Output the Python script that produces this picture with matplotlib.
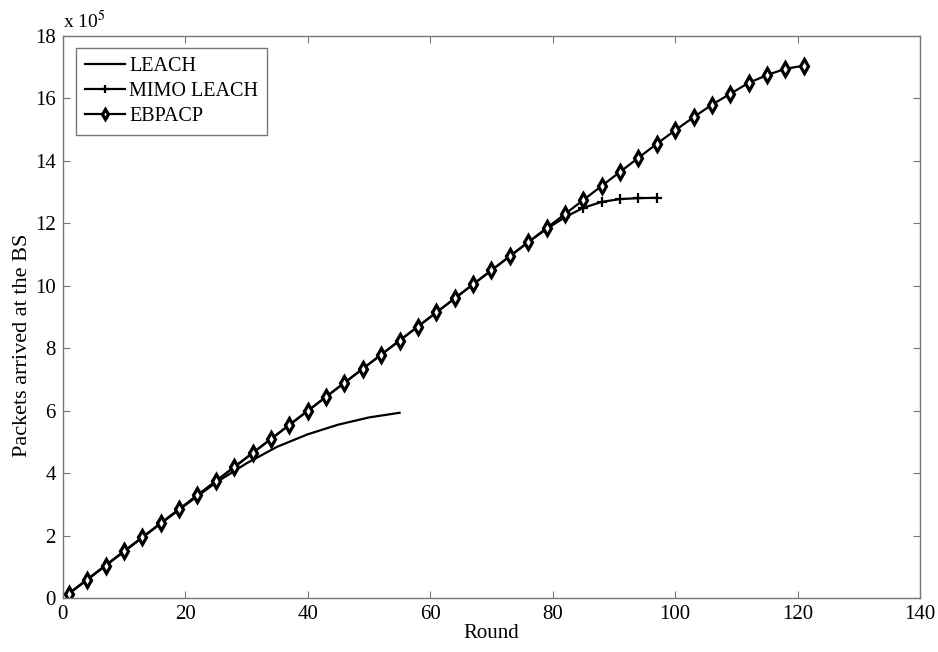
import matplotlib
matplotlib.use("Agg")
import matplotlib.pyplot as plt

plt.rcParams['font.family'] = ['Liberation Serif', 'DejaVu Serif']
plt.rcParams['mathtext.fontset'] = 'stix'

# packets received at the base station, in units of 1e5
rounds_ebpacp = [1, 4, 7, 10, 13, 16, 19, 22, 25, 28, 31, 34, 37, 40, 43, 46, 49,
                 52, 55, 58, 61, 64, 67, 70, 73, 76, 79, 82, 85, 88, 91, 94, 97,
                 100, 103, 106, 109, 112, 115, 118, 121]
ebpacp = [0.15, 0.6, 1.05, 1.5, 1.95, 2.4, 2.85, 3.3, 3.75, 4.2, 4.65, 5.1, 5.55,
          6.0, 6.45, 6.9, 7.35, 7.8, 8.25, 8.7, 9.15, 9.6, 10.05, 10.5, 10.95,
          11.4, 11.85, 12.3, 12.75, 13.2, 13.65, 14.1, 14.55, 14.98, 15.4, 15.8,
          16.15, 16.5, 16.75, 16.95, 17.05]

rounds_mimo = [1, 4, 7, 10, 13, 16, 19, 22, 25, 28, 31, 34, 37, 40, 43, 46, 49,
               52, 55, 58, 61, 64, 67, 70, 73, 76, 79, 82, 85, 88, 91, 94, 97]
mimo = [0.15, 0.6, 1.05, 1.5, 1.95, 2.4, 2.85, 3.3, 3.75, 4.2, 4.65, 5.1, 5.55,
        6.0, 6.45, 6.9, 7.35, 7.8, 8.25, 8.7, 9.15, 9.6, 10.05, 10.5, 10.95,
        11.4, 11.82, 12.2, 12.5, 12.69, 12.78, 12.81, 12.82]

rounds_leach = [1, 5, 10, 15, 20, 25, 30, 35, 40, 45, 50, 55]
leach = [0.15, 0.75, 1.5, 2.25, 2.98, 3.7, 4.32, 4.85, 5.25, 5.56, 5.79, 5.94]

fig = plt.figure(figsize=(9.38, 6.52), dpi=100)
ax = fig.add_axes([0.0668, 0.0823, 0.9142, 0.8625])

ax.plot(rounds_leach, leach, color='black', lw=1.6, label='LEACH')
ax.plot(rounds_mimo, mimo, color='black', lw=1.6, marker='+', ms=7, mew=1.6,
        label='MIMO LEACH')
ax.plot(rounds_ebpacp, ebpacp, color='black', lw=1.6, marker='d', ms=7,
        mfc='white', mec='black', mew=2.3, label='EBPACP')

ax.set_xlim(0, 140)
ax.set_ylim(0, 18)
ax.set_xticks(range(0, 141, 20))
ax.set_yticks(range(0, 19, 2))
ax.tick_params(direction='in', top=True, right=True, length=5, width=0.8,
               color='#777777', labelsize=15, pad=5)
for s in ax.spines.values():
    s.set_color('#777777')
    s.set_linewidth(1.0)

ax.set_xlabel('Round', fontsize=15, labelpad=0)
ax.set_ylabel('Packets arrived at the BS', fontsize=16)
ax.yaxis.set_label_coords(-0.036, 0.45)
ax.text(0.0, 1.006, r'x 10$^{5}$', transform=ax.transAxes, fontsize=14,
        ha='left', va='bottom')

leg = ax.legend(loc='upper left', fontsize=14.5, handlelength=2.0,
                fancybox=False, framealpha=1, borderpad=0.45,
                labelspacing=0.3, handletextpad=0.2, borderaxespad=0,
                markerscale=0.75, bbox_to_anchor=(0.0155, 0.9787))
leg.get_frame().set_edgecolor('#777777')
leg.get_frame().set_linewidth(1.0)

fig.savefig('out.png', dpi=100)
